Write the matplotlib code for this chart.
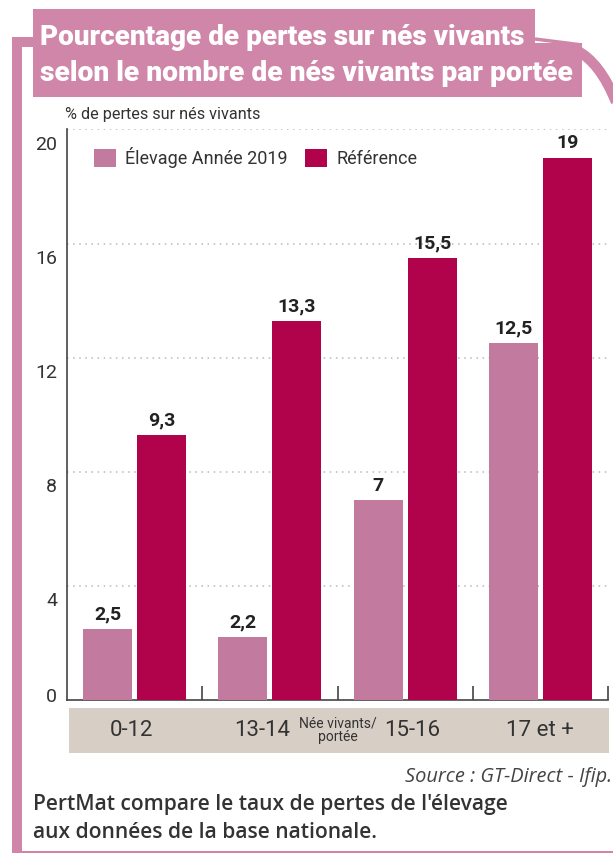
import matplotlib
matplotlib.use("Agg")
import matplotlib.pyplot as plt
import matplotlib.patches as mpatches
from matplotlib.path import Path
from matplotlib.transforms import ScaledTranslation
import numpy as np

# ---- data ----
categories = ["0-12", "13-14", "15-16", "17 et +"]
elevage_2019 = [2.5, 2.2, 7, 12.5]
reference = [9.3, 13.3, 15.5, 19]
value_labels_elev = ["2,5", "2,2", "7", "12,5"]
value_labels_ref = ["9,3", "13,3", "15,5", "19"]
yticks = [0, 4, 8, 12, 16, 20]
series_names = ["Élevage Année 2019", "Référence"]
title_lines = ["Pourcentage de pertes sur nés vivants",
               "selon le nombre de nés vivants par portée"]
ylabel = "% de pertes sur nés vivants"
xaxis_title = "Née vivants/\nportée"
source = "Source : GT-Direct - Ifip."
caption = ["PertMat compare le taux de pertes de l'élevage",
           "aux données de la base nationale."]

PINK = "#c27a9f"
RED = "#b0034b"
FRAME = "#cf86a9"
BAND = "#d7cec5"
TXT = "#333333"
GRID = "#a9bdca"

W, H = 613, 855
fig = plt.figure(figsize=(W / 100, H / 100), dpi=100)
fig.patch.set_facecolor("white")

COND = ["Liberation Sans Narrow", "Roboto", "DejaVu Sans"]

# overlay (pixel coordinates) for frame / decoration
ov = fig.add_axes([0, 0, 1, 1], zorder=0)
ov.set_xlim(0, W)
ov.set_ylim(H, 0)
ov.axis("off")

# frame
ov.add_patch(mpatches.Rectangle((12, 37), 10, 815, color=FRAME, lw=0))
ov.add_patch(mpatches.Rectangle((12, 37), 22, 10, color=FRAME, lw=0))
ov.add_patch(mpatches.Rectangle((12, 850.5), W - 12, 2.5, color=FRAME, lw=0))
ov.plot([535, 582], [39, 45], color=FRAME, lw=2.5, solid_capstyle="butt")
arc = Path([(576, 50), (600, 62), (616, 102)], [Path.MOVETO, Path.CURVE3, Path.CURVE3])
ov.add_patch(mpatches.PathPatch(arc, fill=False, edgecolor=FRAME, lw=7.5, capstyle="butt"))
# title boxes
ov.add_patch(mpatches.Rectangle((33, 9), 502, 88, color=FRAME, lw=0))
ov.add_patch(mpatches.Rectangle((33, 43), 549, 54, color=FRAME, lw=0))
# category band
ov.add_patch(mpatches.Rectangle((69, 708), 540, 45, color=BAND, lw=0))

renderer = fig.canvas.get_renderer()


def fit(t, width_px):
    for _ in range(3):
        w = t.get_window_extent(renderer).width
        t.set_fontsize(t.get_fontsize() * width_px / w)
    return t


TITLE_FONT = ["Roboto", "DejaVu Sans"]
t1 = ov.text(40, 45, title_lines[0], color="white", fontweight=900,
             fontsize=20, family=TITLE_FONT, va="baseline", ha="left")
fit(t1, 487)
t2 = ov.text(40, 81, title_lines[1], color="white", fontweight=900,
             fontsize=20, family=TITLE_FONT, va="baseline", ha="left")
fit(t2, 535)

ty = ov.text(65, 114, ylabel, color=TXT, fontsize=11, family=COND, va="center", ha="left")
fit(ty, 197)

ts = ov.text(612, 777, source, color="#444444", fontsize=12, style="italic",
             family=["Open Sans", "DejaVu Sans"], va="center", ha="right")
fit(ts, 207)

tc1 = ov.text(33, 804, caption[0], color=TXT, fontsize=13, fontweight="semibold",
              family=["Open Sans", "DejaVu Sans"], va="center", ha="left")
fit(tc1, 473)
tc2 = ov.text(33, 832, caption[1], color=TXT, fontsize=tc1.get_fontsize(), fontweight="semibold",
              family=["Open Sans", "DejaVu Sans"], va="center", ha="left")

# ---- main chart ----
ax = fig.add_axes([67 / W, (H - 700) / H, (608 - 67) / W, (700 - 129.5) / H], zorder=1)
ax.set_facecolor("none")
x = np.arange(len(categories))
bw = 0.363
off = 0.2
ax.bar(x - off, elevage_2019, bw, color=PINK, zorder=3, label=series_names[0])
ax.bar(x + off, reference, bw, color=RED, zorder=3, label=series_names[1])
ax.set_xlim(-0.5, len(categories) - 0.5)
ax.set_ylim(0, 20)

for yv in yticks[1:]:
    ax.axhline(yv, color=GRID, lw=1.1, linestyle=(0, (1, 3)), zorder=1)

for i in range(len(categories)):
    ax.annotate(value_labels_elev[i], (x[i] - off, elevage_2019[i]), xytext=(0, 4),
                textcoords="offset points", ha="center", va="bottom",
                fontweight="bold", fontsize=14, color="#222222", family=COND)
    ax.annotate(value_labels_ref[i], (x[i] + off, reference[i]), xytext=(0, 4),
                textcoords="offset points", ha="center", va="bottom",
                fontweight="bold", fontsize=14, color="#222222", family=COND)

for s in ["top", "right"]:
    ax.spines[s].set_visible(False)
for s in ["left", "bottom"]:
    ax.spines[s].set_color("#444444")
    ax.spines[s].set_linewidth(1.2)

ax.set_xticks(x + 0.5)
ax.set_xticklabels([])
ax.tick_params(axis="x", direction="in", length=10, width=1.2, color="#444444")
ax.set_yticks(yticks)
ax.set_yticklabels([str(v) for v in yticks], fontsize=14, color=TXT, family=COND)
ax.tick_params(axis="y", length=0, pad=7)
for lab, v in zip(ax.get_yticklabels(), yticks):
    dy = 0.05 if v == 0 else -0.13
    lab.set_transform(lab.get_transform() + ScaledTranslation(0, dy, fig.dpi_scale_trans))

# category labels
cat_dx = [-3, -8, 7, 0]
for i, c in enumerate(categories):
    ax.annotate(c, (x[i], 0), xycoords=("data", "axes fraction"),
                xytext=(cat_dx[i] * 0.72, -30 * 0.72), textcoords="offset points",
                ha="center", va="center", fontsize=16, color=TXT, family=COND)
ax.annotate(xaxis_title, (1.5, 0), xycoords=("data", "axes fraction"),
            xytext=(0, -30 * 0.72), textcoords="offset points",
            ha="center", va="center", fontsize=10, color=TXT, family=COND,
            linespacing=0.95)

# legend
leg = ax.legend(loc="upper left", bbox_to_anchor=(0.02, 0.998), ncol=2, frameon=False,
                handlelength=1.2, handleheight=1.2, handletextpad=0.5, columnspacing=1.0,
                prop={"family": COND, "size": 13})
for t in leg.get_texts():
    t.set_color(TXT)

fig.savefig("out.png", dpi=100)
